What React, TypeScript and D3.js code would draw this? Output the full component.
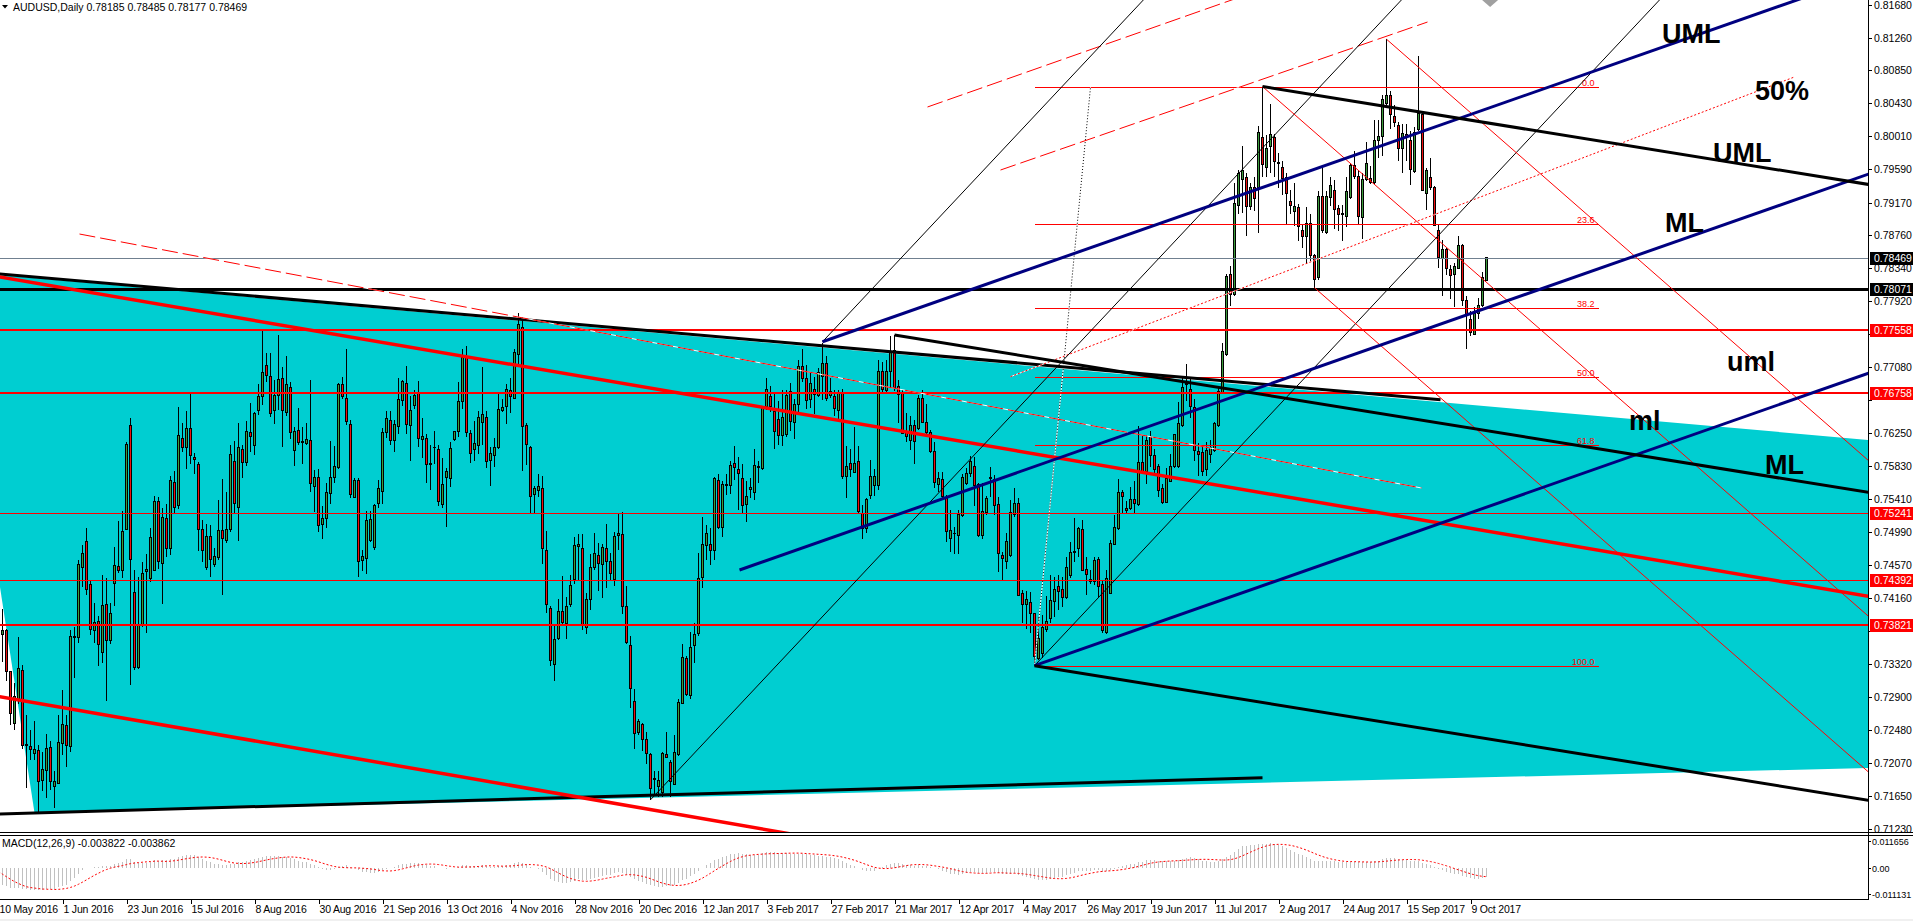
import { useEffect, useRef } from "react"
import * as d3 from "d3"

type Pt = { bar: number; price: number }

// ---- data (AUDUSD daily, 10 May 2016 .. 13 Oct 2017) ----
const dateLabels = [
  "10 May 2016", "1 Jun 2016", "23 Jun 2016", "15 Jul 2016", "8 Aug 2016", "30 Aug 2016",
  "21 Sep 2016", "13 Oct 2016", "4 Nov 2016", "28 Nov 2016", "20 Dec 2016", "12 Jan 2017",
  "3 Feb 2017", "27 Feb 2017", "21 Mar 2017", "12 Apr 2017", "4 May 2017", "26 May 2017",
  "19 Jun 2017", "11 Jul 2017", "2 Aug 2017", "24 Aug 2017", "15 Sep 2017", "9 Oct 2017",
]
const barsPerDateLabel = 16

const opens = [
  0.7356, 0.7370, 0.7375, 0.7322, 0.7257, 0.7286, 0.7324, 0.7229, 0.7227, 0.7219,
  0.7222, 0.7184, 0.7197, 0.7226, 0.7177, 0.7181, 0.7231, 0.7254, 0.7228, 0.7367,
  0.7366, 0.7455, 0.7487, 0.7433, 0.7375, 0.7386, 0.7347, 0.7407, 0.7362, 0.7434,
  0.7456, 0.7450, 0.7503, 0.7634, 0.7423, 0.7328, 0.7382, 0.7449, 0.7441, 0.7451,
  0.7538, 0.7460, 0.7517, 0.7478, 0.7562, 0.7533, 0.7618, 0.7606, 0.7630, 0.7594,
  0.7585, 0.7503, 0.7454, 0.7494, 0.7458, 0.7467, 0.7501, 0.7489, 0.7502, 0.7589,
  0.7530, 0.7604, 0.7587, 0.7625, 0.7609, 0.7653, 0.7671, 0.7710, 0.7697, 0.7654,
  0.7672, 0.7694, 0.7651, 0.7683, 0.7603, 0.7628, 0.7614, 0.7611, 0.7616, 0.7557,
  0.7568, 0.7509, 0.7516, 0.7548, 0.7569, 0.7581, 0.7686, 0.7668, 0.7636, 0.7543,
  0.7565, 0.7463, 0.7466, 0.7489, 0.7480, 0.7535, 0.7551, 0.7625, 0.7641, 0.7616,
  0.7633, 0.7666, 0.7688, 0.7635, 0.7660, 0.7676, 0.7617, 0.7618, 0.7586, 0.7607,
  0.7604, 0.7534, 0.7569, 0.7567, 0.7617, 0.7627, 0.7665, 0.7722, 0.7624, 0.7604,
  0.7609, 0.7638, 0.7645, 0.7590, 0.7596, 0.7606, 0.7654, 0.7658, 0.7679, 0.7669,
  0.7725, 0.7759, 0.7635, 0.7607, 0.7547, 0.7552, 0.7554, 0.7476, 0.7403, 0.7332,
  0.7365, 0.7399, 0.7383, 0.7407, 0.7439, 0.7481, 0.7478, 0.7379, 0.7414, 0.7454,
  0.7470, 0.7458, 0.7478, 0.7462, 0.7439, 0.7495, 0.7496, 0.7405, 0.7355, 0.7285,
  0.7245, 0.7256, 0.7236, 0.7217, 0.7186, 0.7177, 0.7169, 0.7217, 0.7207, 0.7180,
  0.7217, 0.7282, 0.7339, 0.7292, 0.7356, 0.7371, 0.7442, 0.7482, 0.7484, 0.7476,
  0.7565, 0.7505, 0.7558, 0.7558, 0.7586, 0.7579, 0.7567, 0.7534, 0.7553, 0.7549,
  0.7582, 0.7580, 0.7658, 0.7671, 0.7652, 0.7642, 0.7622, 0.7623, 0.7677, 0.7638,
  0.7661, 0.7709, 0.7694, 0.7667, 0.7680, 0.7673, 0.7697, 0.7713, 0.7672, 0.7671,
  0.7653, 0.7675, 0.7570, 0.7586, 0.7575, 0.7589, 0.7523, 0.7504, 0.7546, 0.7558,
  0.7558, 0.7703, 0.7679, 0.7703, 0.7729, 0.7684, 0.7675, 0.7626, 0.7616, 0.7634,
  0.7630, 0.7668, 0.7638, 0.7625, 0.7601, 0.7560, 0.7566, 0.7543, 0.7491, 0.7498,
  0.7495, 0.7520, 0.7561, 0.7573, 0.7582, 0.7559, 0.7495, 0.7524, 0.7567, 0.7566,
  0.7534, 0.7470, 0.7462, 0.7470, 0.7522, 0.7535, 0.7421, 0.7407, 0.7410, 0.7396,
  0.7339, 0.7346, 0.7376, 0.7390, 0.7411, 0.7430, 0.7426, 0.7417, 0.7444, 0.7474,
  0.7479, 0.7502, 0.7452, 0.7439, 0.7437, 0.7465, 0.7433, 0.7372, 0.7422, 0.7484,
  0.7504, 0.7550, 0.7529, 0.7529, 0.7540, 0.7534, 0.7587, 0.7576, 0.7620, 0.7596,
  0.7583, 0.7554, 0.7537, 0.7564, 0.7582, 0.7582, 0.7635, 0.7688, 0.7680, 0.7657,
  0.7601, 0.7600, 0.7579, 0.7598, 0.7603, 0.7635, 0.7675, 0.7725, 0.7826, 0.7800,
  0.7913, 0.7946, 0.7949, 0.7912, 0.7936, 0.7936, 0.8000, 0.7962, 0.7988, 0.7999,
  0.7968, 0.7961, 0.7949, 0.7918, 0.7906, 0.7911, 0.7882, 0.7874, 0.7891, 0.7850,
  0.7822, 0.7925, 0.7879, 0.7924, 0.7932, 0.7909, 0.7902, 0.7899, 0.7924, 0.7964,
  0.7950, 0.7898, 0.7946, 0.7947, 0.7942, 0.7996, 0.8001, 0.8042, 0.8053, 0.8026,
  0.8015, 0.7985, 0.8003, 0.7996, 0.7956, 0.8009, 0.8028, 0.7928, 0.7949, 0.7936,
  0.7881, 0.7846, 0.7857, 0.7832, 0.7826, 0.7834, 0.7862, 0.7793, 0.7769, 0.7750,
  0.7776, 0.7786, 0.78185,
]

const highs = [
  0.7392, 0.7402, 0.7376, 0.7323, 0.7308, 0.7366, 0.7331, 0.7268, 0.7249, 0.7260,
  0.7229, 0.7220, 0.7244, 0.7235, 0.7197, 0.7268, 0.7299, 0.7268, 0.7375, 0.7379,
  0.7464, 0.7483, 0.7504, 0.7437, 0.7410, 0.7393, 0.7445, 0.7441, 0.7410, 0.7481,
  0.7513, 0.7526, 0.7614, 0.7644, 0.7451, 0.7442, 0.7462, 0.7472, 0.7504, 0.7545,
  0.7544, 0.7530, 0.7535, 0.7570, 0.7577, 0.7658, 0.7638, 0.7653, 0.7676, 0.7599,
  0.7588, 0.7515, 0.7509, 0.7508, 0.7479, 0.7540, 0.7566, 0.7550, 0.7610, 0.7615,
  0.7638, 0.7610, 0.7640, 0.7663, 0.7652, 0.7687, 0.7755, 0.7726, 0.7726, 0.7692,
  0.7749, 0.7708, 0.7723, 0.7690, 0.7633, 0.7656, 0.7633, 0.7638, 0.7692, 0.7578,
  0.7579, 0.7533, 0.7561, 0.7615, 0.7608, 0.7688, 0.7696, 0.7731, 0.7641, 0.7568,
  0.7568, 0.7477, 0.7526, 0.7526, 0.7535, 0.7565, 0.7631, 0.7653, 0.7653, 0.7642,
  0.7695, 0.7692, 0.7710, 0.7672, 0.7680, 0.7691, 0.7644, 0.7624, 0.7610, 0.7628,
  0.7610, 0.7593, 0.7581, 0.7614, 0.7628, 0.7689, 0.7732, 0.7735, 0.7629, 0.7640,
  0.7653, 0.7709, 0.7653, 0.7607, 0.7619, 0.7676, 0.7668, 0.7687, 0.7695, 0.7731,
  0.7777, 0.7772, 0.7637, 0.7608, 0.7558, 0.7573, 0.7570, 0.7501, 0.7406, 0.7382,
  0.7414, 0.7444, 0.7417, 0.7445, 0.7493, 0.7497, 0.7497, 0.7422, 0.7472, 0.7498,
  0.7486, 0.7484, 0.7509, 0.7473, 0.7500, 0.7524, 0.7525, 0.7431, 0.7368, 0.7300,
  0.7263, 0.7257, 0.7246, 0.7219, 0.7197, 0.7197, 0.7221, 0.7246, 0.7211, 0.7242,
  0.7288, 0.7357, 0.7342, 0.7373, 0.7384, 0.7473, 0.7518, 0.7508, 0.7504, 0.7569,
  0.7573, 0.7564, 0.7573, 0.7589, 0.7609, 0.7595, 0.7586, 0.7564, 0.7568, 0.7604,
  0.7589, 0.7658, 0.7694, 0.7684, 0.7676, 0.7665, 0.7679, 0.7679, 0.7688, 0.7668,
  0.7718, 0.7731, 0.7711, 0.7701, 0.7696, 0.7707, 0.7739, 0.7722, 0.7694, 0.7680,
  0.7680, 0.7681, 0.7609, 0.7604, 0.7632, 0.7608, 0.7534, 0.7542, 0.7591, 0.7579,
  0.7718, 0.7715, 0.7717, 0.7748, 0.7749, 0.7692, 0.7679, 0.7650, 0.7647, 0.7641,
  0.7673, 0.7680, 0.7662, 0.7629, 0.7614, 0.7576, 0.7575, 0.7546, 0.7527, 0.7506,
  0.7527, 0.7573, 0.7580, 0.7596, 0.7595, 0.7561, 0.7561, 0.7545, 0.7582, 0.7572,
  0.7544, 0.7474, 0.7498, 0.7540, 0.7555, 0.7542, 0.7426, 0.7425, 0.7424, 0.7397,
  0.7392, 0.7394, 0.7418, 0.7445, 0.7443, 0.7445, 0.7443, 0.7468, 0.7487, 0.7517,
  0.7506, 0.7515, 0.7468, 0.7451, 0.7468, 0.7468, 0.7439, 0.7451, 0.7489, 0.7521,
  0.7567, 0.7553, 0.7539, 0.7557, 0.7564, 0.7634, 0.7621, 0.7623, 0.7628, 0.7605,
  0.7585, 0.7560, 0.7580, 0.7598, 0.7623, 0.7664, 0.7696, 0.7712, 0.7696, 0.7668,
  0.7612, 0.7610, 0.7614, 0.7616, 0.7639, 0.7684, 0.7739, 0.7827, 0.7837, 0.7942,
  0.7958, 0.7989, 0.7954, 0.7942, 0.7949, 0.8014, 0.8064, 0.8003, 0.8042, 0.8004,
  0.7980, 0.7970, 0.7954, 0.7933, 0.7942, 0.7915, 0.7888, 0.7911, 0.7902, 0.7852,
  0.7931, 0.7963, 0.7931, 0.7949, 0.7945, 0.7914, 0.7914, 0.7949, 0.7967, 0.7982,
  0.7958, 0.7954, 0.7994, 0.7963, 0.8022, 0.8022, 0.8053, 0.8124, 0.8058, 0.8040,
  0.8019, 0.8017, 0.8017, 0.8008, 0.8013, 0.8103, 0.8033, 0.7961, 0.7974, 0.7938,
  0.7888, 0.7870, 0.7859, 0.7838, 0.7841, 0.7875, 0.7864, 0.7798, 0.7780, 0.7784,
  0.7796, 0.7829, 0.78485,
]

const lows = [
  0.7346, 0.7335, 0.7311, 0.7255, 0.7248, 0.7282, 0.7224, 0.7175, 0.7211, 0.7211,
  0.7144, 0.7171, 0.7162, 0.7173, 0.7149, 0.7180, 0.7217, 0.7202, 0.7220, 0.7314,
  0.7359, 0.7430, 0.7419, 0.7369, 0.7359, 0.7329, 0.7333, 0.7285, 0.7357, 0.7406,
  0.7448, 0.7441, 0.7503, 0.7305, 0.7325, 0.7326, 0.7379, 0.7372, 0.7436, 0.7450,
  0.7453, 0.7408, 0.7468, 0.7470, 0.7522, 0.7528, 0.7601, 0.7579, 0.7586, 0.7573,
  0.7475, 0.7462, 0.7451, 0.7442, 0.7455, 0.7464, 0.7419, 0.7485, 0.7499, 0.7524,
  0.7488, 0.7568, 0.7583, 0.7601, 0.7597, 0.7648, 0.7661, 0.7690, 0.7645, 0.7636,
  0.7654, 0.7607, 0.7647, 0.7617, 0.7583, 0.7610, 0.7586, 0.7610, 0.7550, 0.7525,
  0.7500, 0.7490, 0.7504, 0.7535, 0.7561, 0.7579, 0.7668, 0.7635, 0.7542, 0.7542,
  0.7442, 0.7450, 0.7446, 0.7487, 0.7477, 0.7530, 0.7535, 0.7619, 0.7610, 0.7601,
  0.7624, 0.7659, 0.7624, 0.7589, 0.7655, 0.7607, 0.7593, 0.7561, 0.7553, 0.7586,
  0.7533, 0.7530, 0.7506, 0.7557, 0.7615, 0.7620, 0.7655, 0.7620, 0.7587, 0.7590,
  0.7598, 0.7610, 0.7580, 0.7558, 0.7582, 0.7604, 0.7651, 0.7636, 0.7650, 0.7668,
  0.7710, 0.7577, 0.7584, 0.7524, 0.7524, 0.7544, 0.7459, 0.7397, 0.7330, 0.7311,
  0.7363, 0.7382, 0.7364, 0.7404, 0.7433, 0.7437, 0.7375, 0.7370, 0.7401, 0.7451,
  0.7425, 0.7416, 0.7428, 0.7438, 0.7431, 0.7476, 0.7395, 0.7357, 0.7276, 0.7224,
  0.7242, 0.7222, 0.7206, 0.7160, 0.7166, 0.7164, 0.7164, 0.7213, 0.7164, 0.7180,
  0.7215, 0.7281, 0.7291, 0.7288, 0.7333, 0.7368, 0.7428, 0.7464, 0.7457, 0.7464,
  0.7503, 0.7493, 0.7546, 0.7547, 0.7565, 0.7527, 0.7522, 0.7512, 0.7542, 0.7540,
  0.7561, 0.7578, 0.7654, 0.7652, 0.7604, 0.7610, 0.7609, 0.7620, 0.7627, 0.7617,
  0.7649, 0.7690, 0.7655, 0.7657, 0.7649, 0.7671, 0.7667, 0.7665, 0.7669, 0.7646,
  0.7640, 0.7567, 0.7542, 0.7569, 0.7574, 0.7523, 0.7490, 0.7498, 0.7541, 0.7545,
  0.7553, 0.7674, 0.7675, 0.7683, 0.7678, 0.7637, 0.7624, 0.7614, 0.7603, 0.7586,
  0.7629, 0.7637, 0.7620, 0.7599, 0.7555, 0.7550, 0.7542, 0.7487, 0.7474, 0.7472,
  0.7472, 0.7518, 0.7559, 0.7569, 0.7532, 0.7493, 0.7491, 0.7521, 0.7544, 0.7521,
  0.7449, 0.7439, 0.7452, 0.7468, 0.7518, 0.7418, 0.7384, 0.7377, 0.7372, 0.7330,
  0.7337, 0.7340, 0.7373, 0.7384, 0.7392, 0.7401, 0.7405, 0.7415, 0.7441, 0.7462,
  0.7468, 0.7451, 0.7419, 0.7434, 0.7432, 0.7417, 0.7372, 0.7370, 0.7421, 0.7483,
  0.7502, 0.7523, 0.7524, 0.7527, 0.7524, 0.7533, 0.7573, 0.7560, 0.7582, 0.7573,
  0.7544, 0.7535, 0.7536, 0.7563, 0.7580, 0.7580, 0.7632, 0.7666, 0.7644, 0.7589,
  0.7570, 0.7570, 0.7571, 0.7587, 0.7601, 0.7633, 0.7674, 0.7723, 0.7786, 0.7798,
  0.7902, 0.7904, 0.7874, 0.7908, 0.7906, 0.7878, 0.7949, 0.7949, 0.7954, 0.7949,
  0.7936, 0.7927, 0.7890, 0.7902, 0.7887, 0.7868, 0.7859, 0.7841, 0.7843, 0.7809,
  0.7819, 0.7878, 0.7877, 0.7913, 0.7884, 0.7881, 0.7868, 0.7886, 0.7922, 0.7947,
  0.7890, 0.7871, 0.7944, 0.7940, 0.7941, 0.7974, 0.7976, 0.8040, 0.8010, 0.8013,
  0.7970, 0.7954, 0.7970, 0.7939, 0.7954, 0.8008, 0.7931, 0.7908, 0.7933, 0.7887,
  0.7834, 0.7798, 0.7825, 0.7795, 0.7784, 0.7834, 0.7786, 0.7732, 0.7748, 0.7749,
  0.7770, 0.7784, 0.78177,
]

const closes = [
  0.7372, 0.7375, 0.7323, 0.7269, 0.7291, 0.7326, 0.7229, 0.7230, 0.7224, 0.7224,
  0.7183, 0.7198, 0.7225, 0.7183, 0.7183, 0.7232, 0.7255, 0.7229, 0.7367, 0.7366,
  0.7458, 0.7472, 0.7427, 0.7376, 0.7385, 0.7357, 0.7406, 0.7362, 0.7396, 0.7457,
  0.7450, 0.7500, 0.7610, 0.7464, 0.7328, 0.7382, 0.7447, 0.7452, 0.7492, 0.7538,
  0.7462, 0.7518, 0.7478, 0.7565, 0.7530, 0.7622, 0.7607, 0.7630, 0.7597, 0.7591,
  0.7502, 0.7476, 0.7494, 0.7465, 0.7469, 0.7501, 0.7491, 0.7502, 0.7598, 0.7535,
  0.7607, 0.7587, 0.7627, 0.7621, 0.7649, 0.7671, 0.7701, 0.7698, 0.7650, 0.7673,
  0.7693, 0.7653, 0.7686, 0.7625, 0.7627, 0.7613, 0.7613, 0.7617, 0.7561, 0.7568,
  0.7508, 0.7516, 0.7550, 0.7568, 0.7583, 0.7687, 0.7671, 0.7640, 0.7547, 0.7565,
  0.7462, 0.7468, 0.7514, 0.7515, 0.7533, 0.7554, 0.7625, 0.7643, 0.7616, 0.7636,
  0.7667, 0.7690, 0.7636, 0.7654, 0.7672, 0.7618, 0.7621, 0.7585, 0.7585, 0.7607,
  0.7538, 0.7560, 0.7576, 0.7605, 0.7627, 0.7665, 0.7721, 0.7626, 0.7599, 0.7611,
  0.7645, 0.7648, 0.7589, 0.7599, 0.7606, 0.7655, 0.7657, 0.7680, 0.7671, 0.7727,
  0.7762, 0.7633, 0.7610, 0.7544, 0.7555, 0.7557, 0.7479, 0.7407, 0.7336, 0.7363,
  0.7399, 0.7385, 0.7405, 0.7431, 0.7482, 0.7483, 0.7382, 0.7414, 0.7454, 0.7472,
  0.7460, 0.7480, 0.7462, 0.7447, 0.7494, 0.7498, 0.7405, 0.7359, 0.7301, 0.7244,
  0.7259, 0.7237, 0.7219, 0.7174, 0.7187, 0.7185, 0.7219, 0.7213, 0.7183, 0.7220,
  0.7283, 0.7340, 0.7293, 0.7353, 0.7369, 0.7441, 0.7484, 0.7497, 0.7476, 0.7567,
  0.7505, 0.7560, 0.7559, 0.7584, 0.7581, 0.7574, 0.7533, 0.7545, 0.7556, 0.7584,
  0.7582, 0.7656, 0.7680, 0.7658, 0.7627, 0.7622, 0.7645, 0.7672, 0.7639, 0.7661,
  0.7709, 0.7694, 0.7666, 0.7688, 0.7674, 0.7701, 0.7713, 0.7668, 0.7678, 0.7656,
  0.7675, 0.7570, 0.7582, 0.7579, 0.7586, 0.7526, 0.7504, 0.7540, 0.7570, 0.7570,
  0.7703, 0.7680, 0.7703, 0.7728, 0.7683, 0.7674, 0.7624, 0.7621, 0.7634, 0.7614,
  0.7668, 0.7638, 0.7625, 0.7602, 0.7562, 0.7567, 0.7544, 0.7500, 0.7501, 0.7498,
  0.7522, 0.7569, 0.7573, 0.7589, 0.7558, 0.7495, 0.7525, 0.7542, 0.7568, 0.7533,
  0.7472, 0.7466, 0.7488, 0.7524, 0.7535, 0.7419, 0.7407, 0.7414, 0.7396, 0.7342,
  0.7365, 0.7379, 0.7386, 0.7412, 0.7426, 0.7424, 0.7417, 0.7455, 0.7474, 0.7475,
  0.7504, 0.7451, 0.7445, 0.7437, 0.7463, 0.7430, 0.7374, 0.7440, 0.7485, 0.7505,
  0.7550, 0.7544, 0.7527, 0.7541, 0.7535, 0.7587, 0.7576, 0.7615, 0.7596, 0.7579,
  0.7552, 0.7537, 0.7567, 0.7583, 0.7623, 0.7637, 0.7682, 0.7686, 0.7659, 0.7603,
  0.7598, 0.7576, 0.7603, 0.7606, 0.7637, 0.7678, 0.7728, 0.7823, 0.7800, 0.7916,
  0.7954, 0.7957, 0.7912, 0.7936, 0.7922, 0.8006, 0.7965, 0.7985, 0.8003, 0.7969,
  0.7967, 0.7947, 0.7928, 0.7913, 0.7912, 0.7886, 0.7874, 0.7891, 0.7850, 0.7819,
  0.7925, 0.7881, 0.7925, 0.7939, 0.7908, 0.7902, 0.7903, 0.7931, 0.7964, 0.7950,
  0.7899, 0.7946, 0.7967, 0.7942, 0.7996, 0.8001, 0.8047, 0.8053, 0.8028, 0.8019,
  0.7986, 0.8004, 0.7999, 0.7959, 0.8006, 0.8030, 0.7932, 0.7958, 0.7936, 0.7888,
  0.7847, 0.7857, 0.7834, 0.7825, 0.7836, 0.7862, 0.7793, 0.7775, 0.7752, 0.7776,
  0.7786, 0.7822, 0.78469,
]

const priceTicks = [
  0.8168, 0.8126, 0.8085, 0.8043, 0.8001, 0.7959, 0.7917, 0.7876, 0.7834, 0.7792, 0.775, 0.7708, 0.7667,
  0.7625, 0.7583, 0.7541, 0.7499, 0.7457, 0.7416, 0.7374, 0.7332, 0.729, 0.7248, 0.7207, 0.7165, 0.7123,
]

// horizontal levels: bid line, black support, red levels
const levelPrices = [0.78469, 0.78071, 0.77558, 0.76758, 0.75241, 0.74392, 0.73821]

const macdTicks = [0.011656, 0, -0.011131]
const macdTickLabels = ["0.011656", "0.00", "-0.011131"]
// indicator state before the first visible bar (estimated)
const macdStart = { ema12: 0.746, ema26: 0.7535 }
const macdPrior = [0.003, 0.0022, 0.0012, 0.0002, -0.001, -0.0022, -0.0036, -0.0062]

// drawn objects, anchored in (bar, price)
const backgroundTriangle: Pt[] = [
  { bar: -11.7, price: 0.78306 },
  { bar: 9, price: 0.71435 },
  { bar: 1194.75, price: 0.72906 },
]
const blackTopLine: Pt[] = [{ bar: -12, price: 0.7832 }, { bar: 360.5, price: 0.7667 }]
const blackBaseLine: Pt[] = [{ bar: -0.5, price: 0.7142 }, { bar: 316, price: 0.7188 }]
const redChannelUpper: Pt[] = [{ bar: -2, price: 0.78247 }, { bar: 480, price: 0.7407 }]
const redChannelLower: Pt[] = [{ bar: -2, price: 0.72928 }, { bar: 200, price: 0.7115 }]
const redDashedDown: Pt[] = [{ bar: 20.25, price: 0.78771 }, { bar: 355.75, price: 0.75552 }]
const redDashedWarn1: Pt[] = [{ bar: 232.25, price: 0.80381 }, { bar: 309, price: 0.8175 }]
const redDashedWarn2: Pt[] = [{ bar: 250.5, price: 0.79582 }, { bar: 357.25, price: 0.81458 }]
const redDotted50: Pt[] = [{ bar: 253, price: 0.76963 }, { bar: 448.75, price: 0.80757 }]

const bluePitchfork: Pt[] = [
  { bar: 185.25, price: 0.74513 },
  { bar: 206, price: 0.77406 },
  { bar: 259, price: 0.733 },
]
const blackThinPitchfork: Pt[] = [
  { bar: 163, price: 0.716 },
  { bar: 206, price: 0.77406 },
  { bar: 259, price: 0.733 },
]
const blackPitchfork: Pt[] = [
  { bar: 224, price: 0.7749 },
  { bar: 259, price: 0.733 },
  { bar: 316, price: 0.8064 },
]
const redPitchfork: Pt[] = [
  { bar: 316, price: 0.8064 },
  { bar: 329, price: 0.7809 },
  { bar: 347, price: 0.8124 },
]

const fibAnchors: Pt[] = [{ bar: 259, price: 0.733 }, { bar: 273, price: 0.8063 }]
const fibEndBar = 400
const fibLevels = [0, 23.6, 38.2, 50, 61.8, 100]

const annotationTexts = ["UML", "50%", "UML", "ML", "uml", "ml", "ML"]
const annotationAnchors: Pt[] = [
  { bar: 415.9, price: 0.81192 },
  { bar: 439.1, price: 0.8047 },
  { bar: 428.6, price: 0.79684 },
  { bar: 416.6, price: 0.78797 },
  { bar: 432.1, price: 0.77035 },
  { bar: 407.6, price: 0.76287 },
  { bar: 441.6, price: 0.75729 },
]

const titleText = "AUDUSD,Daily  0.78185 0.78485 0.78177 0.78469"
const macdTitle = "MACD(12,26,9) -0.003822 -0.003862"

function computeMacd(values: number[]) {
  const a12 = 2 / 13
  const a26 = 2 / 27
  let e12 = macdStart.ema12
  let e26 = macdStart.ema26
  const main: number[] = []
  values.forEach((c) => {
    e12 += a12 * (c - e12)
    e26 += a26 * (c - e26)
    main.push(e12 - e26)
  })
  const all = [...macdPrior, ...main]
  const signal = main.map((_, i) => d3.mean(all.slice(i, i + 9)) as number)
  return { main, signal }
}

export default function App() {
  const svgRef = useRef<SVGSVGElement>(null)

  useEffect(() => {
    if (!svgRef.current) return
    const svg = d3.select(svgRef.current)
    svg.selectAll("*").remove()

    const W = 1913
    const H = 921
    const plotRight = 1868
    const mainBottom = 832
    const font = "'Liberation Sans', Arial, sans-serif"
    const green = "#3c9c3c"
    const red = "#f01010"
    const navy = "#000080"

    const x = d3.scaleLinear().domain([0, 1]).range([-1.5, 2.5])
    const y = d3.scaleLinear().domain([0.8168, 0.7123]).range([4.5, 829])
    const ym = d3.scaleLinear().domain([0.011656, -0.011131]).range([841, 893.5])

    svg.append("rect").attr("width", W).attr("height", H).attr("fill", "#fff")
    svg.append("rect").attr("y", 919).attr("width", W).attr("height", 2).attr("fill", "#f0f0f0")

    const defs = svg.append("defs")
    defs.append("clipPath").attr("id", "mainClip")
      .append("rect").attr("width", plotRight).attr("height", mainBottom)
    defs.append("clipPath").attr("id", "macdClip")
      .append("rect").attr("y", 836).attr("width", plotRight).attr("height", 63)

    const main = svg.append("g").attr("clip-path", "url(#mainClip)")

    // background triangle
    const poly = d3.line<Pt>().x((d) => x(d.bar)).y((d) => y(d.price))
    main.append("path").attr("d", poly(backgroundTriangle) + "Z").attr("fill", "#00ced1")

    // candles
    const bars = d3.range(closes.length)
    const cg = main.append("g").attr("shape-rendering", "crispEdges")
    cg.selectAll("line.wick").data(bars).join("line").attr("class", "wick")
      .attr("x1", (i) => x(i)).attr("x2", (i) => x(i))
      .attr("y1", (i) => y(highs[i])).attr("y2", (i) => y(lows[i]))
      .attr("stroke", "#000")
    cg.selectAll("rect.body").data(bars).join("rect").attr("class", "body")
      .attr("x", (i) => x(i) - 1).attr("width", 2)
      .attr("y", (i) => y(Math.max(opens[i], closes[i])))
      .attr("height", (i) => Math.max(0.5, Math.abs(y(opens[i]) - y(closes[i]))))
      .attr("fill", (i) => (closes[i] >= opens[i] ? green : red))
      .attr("stroke", "#000")

    // line helpers
    const seg = (a: Pt, b: Pt, color: string, width: number, dash?: string) => {
      if (dash) {
        main.append("line")
          .attr("x1", x(a.bar)).attr("y1", y(a.price)).attr("x2", x(b.bar)).attr("y2", y(b.price))
          .attr("stroke", "#fff").attr("stroke-width", width)
      }
      const l = main.append("line")
        .attr("x1", x(a.bar)).attr("y1", y(a.price)).attr("x2", x(b.bar)).attr("y2", y(b.price))
        .attr("stroke", color).attr("stroke-width", width)
      if (dash) l.attr("stroke-dasharray", dash)
    }
    const pitchfork = (p: Pt[], color: string, width: number) => {
      const mid = { bar: (p[1].bar + p[2].bar) / 2, price: (p[1].price + p[2].price) / 2 }
      const s = (mid.price - p[0].price) / (mid.bar - p[0].bar)
      const far = 700
      p.forEach((a) => seg(a, { bar: far, price: a.price + s * (far - a.bar) }, color, width))
    }

    // fibonacci retracement
    const fibHigh = fibAnchors[1].price
    const fibLow = fibAnchors[0].price
    fibLevels.forEach((lv) => {
      const p = fibHigh - (lv / 100) * (fibHigh - fibLow)
      const yy = Math.round(y(p)) + 0.5
      main.append("line").attr("x1", x(fibAnchors[0].bar)).attr("x2", x(fibEndBar))
        .attr("y1", yy).attr("y2", yy).attr("stroke", "#ff0000").attr("stroke-width", 1)
        .attr("shape-rendering", "crispEdges")
      main.append("text").attr("x", x(fibEndBar) - 4).attr("y", yy - 2)
        .attr("text-anchor", "end").attr("font-family", font).attr("font-size", 9)
        .attr("fill", "#ff0000").text(lv.toFixed(1))
    })
    seg(fibAnchors[0], fibAnchors[1], "#000", 1, "1,2")

    // horizontal levels
    const levelStyle = [
      { color: "#708090", width: 1 },
      { color: "#000", width: 3 },
      { color: "#ff0000", width: 2 },
      { color: "#ff0000", width: 2 },
      { color: "#ff0000", width: 1 },
      { color: "#ff0000", width: 1 },
      { color: "#ff0000", width: 2 },
    ]
    levelPrices.forEach((p, i) => {
      const yy = levelStyle[i].width === 2 ? Math.round(y(p)) : Math.round(y(p)) + 0.5
      main.append("line").attr("x1", 0).attr("x2", plotRight).attr("y1", yy).attr("y2", yy)
        .attr("stroke", levelStyle[i].color).attr("stroke-width", levelStyle[i].width)
        .attr("shape-rendering", "crispEdges")
    })

    // trend lines and channels
    seg(blackTopLine[0], blackTopLine[1], "#000", 3)
    seg(blackBaseLine[0], blackBaseLine[1], "#000", 3)
    seg(redChannelUpper[0], redChannelUpper[1], "#ff0000", 3.5)
    seg(redChannelLower[0], redChannelLower[1], "#ff0000", 3.5)
    seg(redDashedDown[0], redDashedDown[1], "#ff0000", 1, "16,5")
    seg(redDashedWarn1[0], redDashedWarn1[1], "#ff0000", 1, "16,5")
    seg(redDashedWarn2[0], redDashedWarn2[1], "#ff0000", 1, "16,5")
    seg(redDotted50[0], redDotted50[1], "#ff0000", 1, "2,2")

    // pitchforks
    pitchfork(blackThinPitchfork, "#000", 1)
    pitchfork(redPitchfork, "#ff0000", 1)
    pitchfork(bluePitchfork, navy, 3)
    pitchfork(blackPitchfork, "#000", 3)

    // annotations
    annotationTexts.forEach((t, i) => {
      main.append("text").attr("x", x(annotationAnchors[i].bar)).attr("y", y(annotationAnchors[i].price))
        .attr("font-family", font).attr("font-size", 27).attr("font-weight", "bold")
        .attr("fill", "#000").text(t)
    })

    // chart shift marker
    main.append("path")
      .attr("d", `M${x(372.9) - 8},0 L${x(372.9) + 8},0 L${x(372.9)},7 Z`)
      .attr("fill", "#a0a0a0")

    // title
    svg.append("path").attr("d", "M2,5 L8,5 L5,8.5 Z").attr("fill", "#000")
    svg.append("text").attr("x", 13).attr("y", 11).attr("font-family", font).attr("font-size", 10.5)
      .attr("fill", "#000").text(titleText)

    // frames
    const frame = svg.append("g").attr("shape-rendering", "crispEdges").attr("stroke", "#000")
    frame.append("line").attr("x1", plotRight + 0.5).attr("x2", plotRight + 0.5).attr("y1", 0).attr("y2", 900)
    frame.append("line").attr("x1", 0).attr("x2", W).attr("y1", 832.5).attr("y2", 832.5)
    frame.append("line").attr("x1", 0).attr("x2", W).attr("y1", 835.5).attr("y2", 835.5)
    frame.append("line").attr("x1", 0).attr("x2", plotRight + 1).attr("y1", 899.5).attr("y2", 899.5)

    // price axis (tick labels hidden where a level label box sits on top of them)
    const ax = svg.append("g").attr("font-family", font).attr("font-size", 10.5)
    priceTicks.forEach((p) => {
      const yy = Math.round(y(p)) + 0.5
      ax.append("line").attr("x1", plotRight).attr("x2", plotRight + 4).attr("y1", yy).attr("y2", yy)
        .attr("stroke", "#000").attr("shape-rendering", "crispEdges")
      const covered = levelPrices.some((lp) => Math.abs(y(lp) - y(p)) < 9)
      if (!covered) {
        ax.append("text").attr("x", plotRight + 6).attr("y", yy).attr("dy", "0.35em").attr("fill", "#000")
          .text(p.toFixed(5))
      }
    })
    levelPrices.forEach((p, i) => {
      const yy = Math.round(y(p)) + 0.5
      ax.append("rect").attr("x", plotRight + 2).attr("y", yy - 6.5).attr("width", W - plotRight - 2)
        .attr("height", 13).attr("fill", i < 2 ? "#000" : "#ff0000")
      ax.append("text").attr("x", plotRight + 6).attr("y", yy).attr("dy", "0.35em").attr("fill", "#fff")
        .text(p.toFixed(5))
    })

    // MACD
    const { main: macdMain, signal } = computeMacd(closes)
    const mg = svg.append("g").attr("clip-path", "url(#macdClip)")
    mg.append("g").attr("shape-rendering", "crispEdges")
      .selectAll("line").data(bars).join("line")
      .attr("x1", (i) => x(i)).attr("x2", (i) => x(i))
      .attr("y1", ym(0)).attr("y2", (i) => ym(macdMain[i]))
      .attr("stroke", "#c0c0c0")
    mg.append("path")
      .attr("d", d3.line<number>().x((_, i) => x(i)).y((d) => ym(d))(signal))
      .attr("fill", "none").attr("stroke", "#ff0000").attr("stroke-width", 1).attr("stroke-dasharray", "2,2")
    svg.append("text").attr("x", 2).attr("y", 847).attr("font-family", font).attr("font-size", 10.5)
      .attr("fill", "#000").text(macdTitle)
    macdTicks.forEach((v, i) => {
      const yy = Math.round(ym(v)) + 0.5
      svg.append("line").attr("x1", plotRight).attr("x2", plotRight + 3).attr("y1", yy).attr("y2", yy)
        .attr("stroke", "#000").attr("shape-rendering", "crispEdges")
      svg.append("text").attr("x", plotRight + 4).attr("y", yy).attr("dy", "0.35em").attr("fill", "#000")
        .attr("font-family", font).attr("font-size", 9).text(macdTickLabels[i])
    })

    // date axis
    const dg = svg.append("g").attr("font-family", font).attr("font-size", 10.5)
    dateLabels.forEach((t, k) => {
      const xx = Math.round(x(k * barsPerDateLabel)) + 0.5
      dg.append("line").attr("x1", xx).attr("x2", xx).attr("y1", 900).attr("y2", 904)
        .attr("stroke", "#000").attr("shape-rendering", "crispEdges")
      dg.append("text").attr("x", xx).attr("y", 913).attr("fill", "#000")
        .attr("letter-spacing", -0.2).text(t)
    })
  }, [])

  return (
    <div style={{ position: "fixed", left: 0, top: 0 }}>
      <svg ref={svgRef} width={1913} height={921} style={{ display: "block" }} />
    </div>
  )
}
